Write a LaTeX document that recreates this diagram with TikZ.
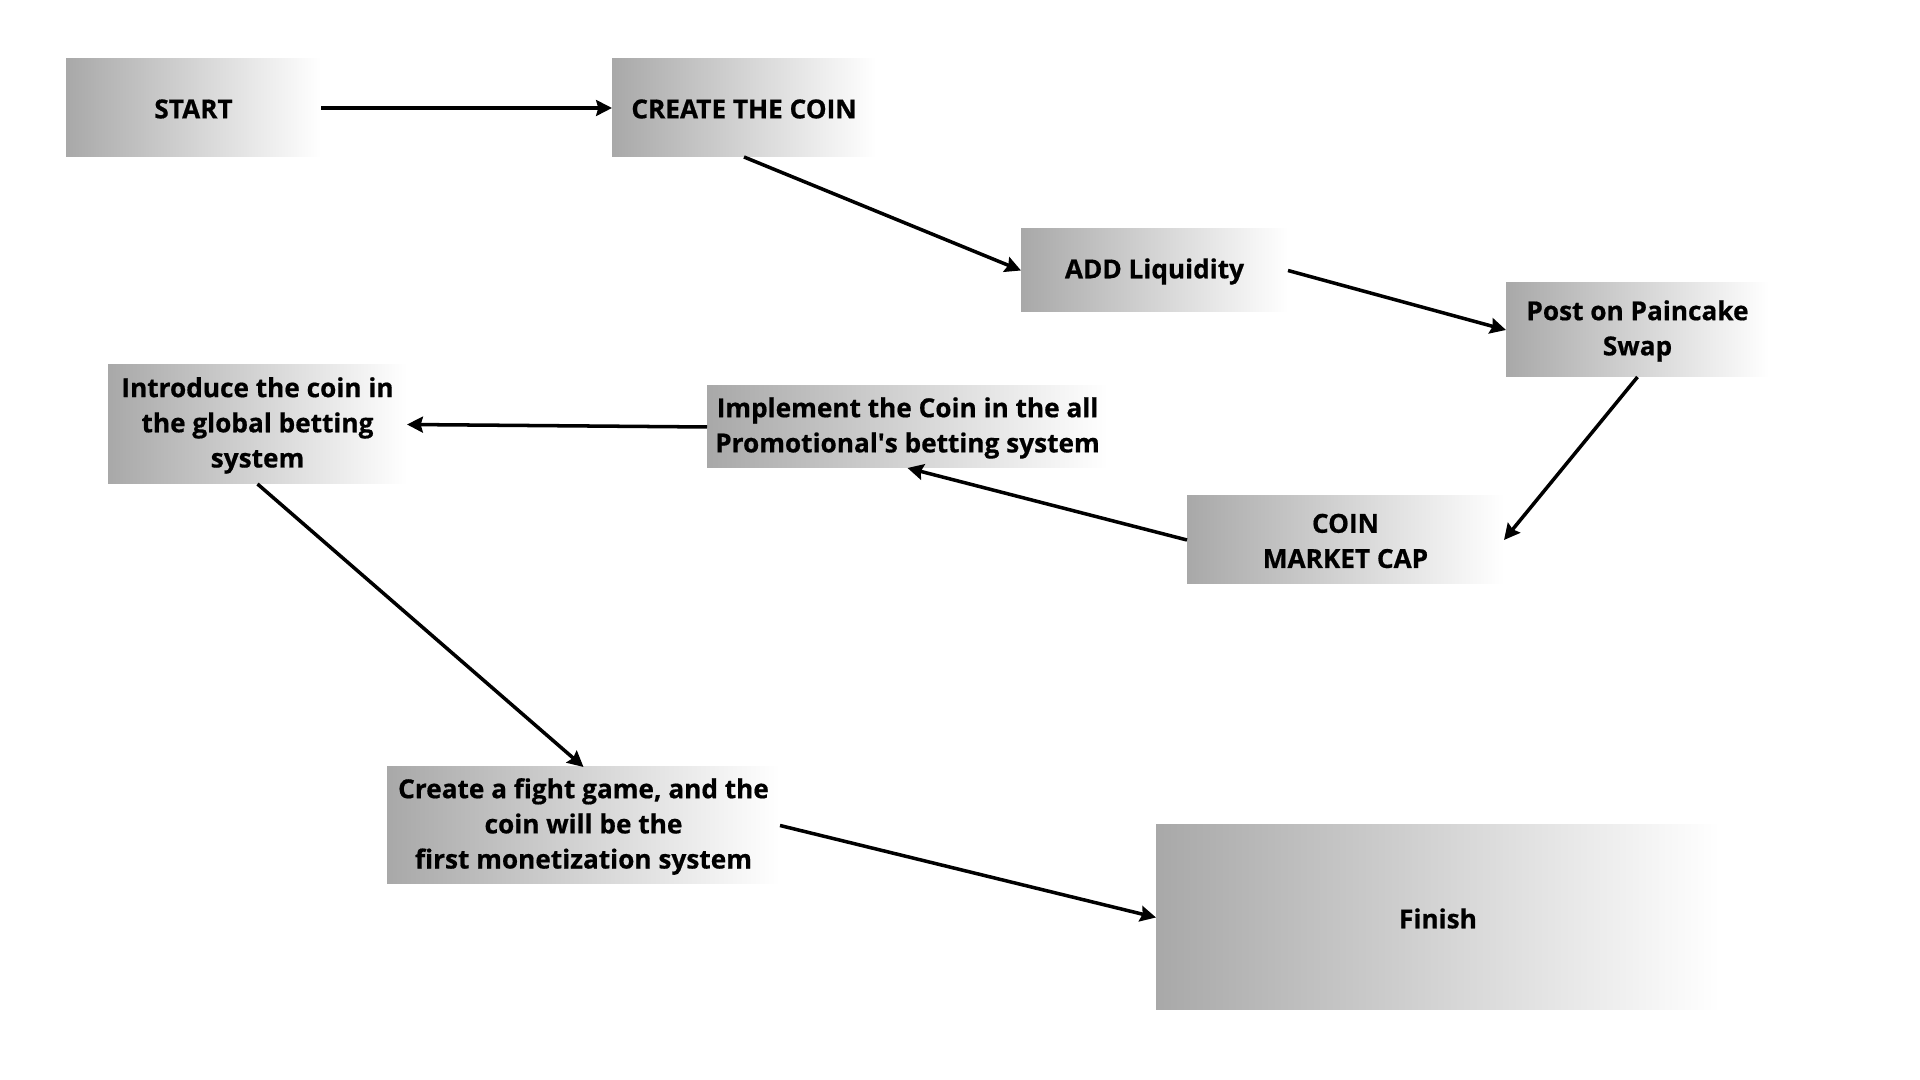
\documentclass[tikz,border=0pt]{standalone}
\usepackage{fontspec}
\setmainfont{Open Sans}[BoldFeatures={FakeBold=0.6}]
\usetikzlibrary{arrows.meta}
\begin{document}
\begin{tikzpicture}[x=0.01cm,y=-0.01cm,
  box/.style 2 args={rectangle, inner sep=0pt, outer sep=0pt, left color=black!34, right color=white,
    minimum width=#1*0.01cm, minimum height=#2*0.01cm},
  boxtext/.style={font=\fontsize{7.45}{10}\selectfont\bfseries, align=center, text=black, inner sep=0pt, yshift=-0.01cm},
  conn/.style={line width=1pt, -{Stealth[length=4.5pt,width=4.5pt,inset=0.6pt]}}]
\useasboundingbox[fill=white] (0,0) rectangle (1920,1080);
\node[box={255}{98}, label={[boxtext]center:START}] (start) at (193.5,108) {};
\node[box={264}{98}, label={[boxtext]center:CREATE THE COIN}] (create) at (744,108) {};
\node[box={267}{83}, label={[boxtext]center:ADD Liquidity}] (add) at (1154.5,270.5) {};
\node[box={263}{94}, label={[boxtext]center:Post on Paincake\\Swap}] (post) at (1637.5,330) {};
\node[box={299}{119}, label={[boxtext]center:Introduce the coin in\\the global betting\\system}] (intro) at (257.5,424.5) {};
\node[box={401}{82}, label={[boxtext]center:Implement the Coin in the all\\Promotional\textquotesingle s betting system}] (impl) at (907.5,427) {};
\node[box={317}{88}, label={[boxtext]center:COIN\\MARKET CAP}] (cap) at (1345.5,540) {};
\node[box={393}{117}, label={[boxtext]center:Create a fight game, and the\\coin will be the\\first monetization system}] (fight) at (583.5,825.5) {};
\node[box={564}{185}, label={[boxtext]center:Finish}] (finish) at (1438,917.5) {};
\draw[conn] (start.east) -- (create.west);
\draw[conn] (create.south) -- (add.west);
\draw[conn] (add.east) -- (post.west);
\draw[conn] (post.south) -- (cap.east);
\draw[conn] (cap.west) -- (impl.south);
\draw[conn] (impl.west) -- (intro.east);
\draw[conn] (intro.south) -- (fight.north);
\draw[conn] (fight.east) -- (finish.west);
\end{tikzpicture}
\end{document}
